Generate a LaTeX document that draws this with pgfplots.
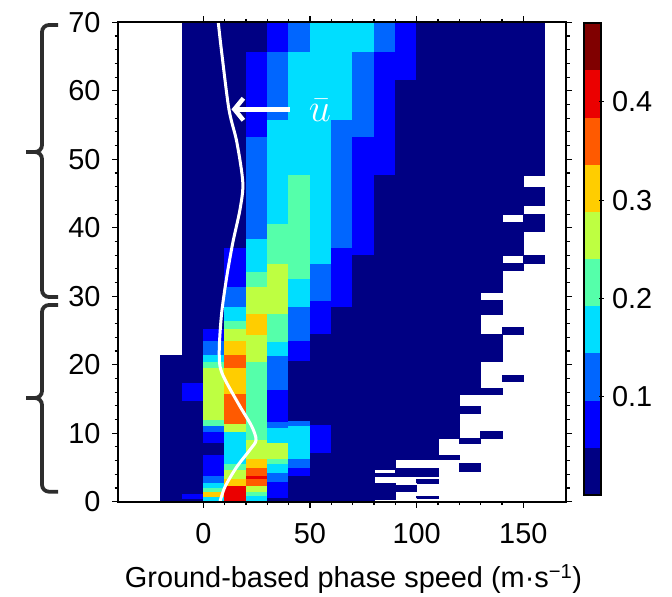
\documentclass[border=0pt]{standalone}
\usepackage{pgfplots}
\pgfplotsset{compat=1.18}
\usepackage{pgfplotstable}
\usepackage{fontspec}
\setmainfont{Liberation Sans}
\usetikzlibrary{arrows.meta}

\definecolor{lev1}{RGB}{0,0,131}
\definecolor{lev2}{RGB}{0,0,255}
\definecolor{lev3}{RGB}{0,102,255}
\definecolor{lev4}{RGB}{0,222,255}
\definecolor{lev5}{RGB}{85,255,170}
\definecolor{lev6}{RGB}{190,255,65}
\definecolor{lev7}{RGB}{255,205,0}
\definecolor{lev8}{RGB}{255,90,0}
\definecolor{lev9}{RGB}{235,0,0}
\definecolor{lev10}{RGB}{128,0,0}
\definecolor{bracegray}{RGB}{45,45,45}

% runs of equal value: left edge of 10 m/s bin, bottom and top altitude (km), value
\pgfplotstableread{
x lo hi v
-20 0 21.4 0.024
-10 17.3 70 0.024
-10 14.6 17.3 0.072
-10 1.0 14.6 0.024
-10 0.25 1.0 0.072
-10 0 0.25 0.024
0 25.1 70 0.024
0 23.4 25.1 0.072
0 21.3 23.4 0.12
0 20.3 21.3 0.168
0 19.4 20.3 0.216
0 11.8 19.4 0.264
0 11.0 11.8 0.216
0 10.1 11.0 0.12
0 8.5 10.1 0.072
0 6.8 8.5 0.024
0 3.7 6.8 0.072
0 2.6 3.7 0.12
0 1.9 2.6 0.168
0 1.3 1.9 0.216
0 0.6 1.3 0.312
0 0 0.6 0.168
10 36.9 70 0.024
10 31.3 36.9 0.072
10 28.3 31.3 0.12
10 26.3 28.3 0.168
10 25.2 26.3 0.216
10 23.4 25.2 0.264
10 21.3 23.4 0.312
10 19.5 21.3 0.36
10 15.6 19.5 0.312
10 11.2 15.6 0.36
10 10.1 11.2 0.264
10 5.5 10.1 0.168
10 4.5 5.5 0.216
10 3.2 4.5 0.264
10 2.2 3.2 0.312
10 0 2.2 0.408
20 65.6 70 0.024
20 53.2 65.6 0.072
20 38.3 53.2 0.12
20 33.4 38.3 0.168
20 31.3 33.4 0.216
20 27.3 31.3 0.264
20 24.2 27.3 0.312
20 20.3 24.2 0.264
20 9.0 20.3 0.216
20 6.1 9.0 0.264
20 4.9 6.1 0.312
20 3.7 4.9 0.36
20 3.2 3.7 0.408
20 2.2 3.2 0.36
20 1.4 2.2 0.264
20 0.7 1.4 0.216
20 0 0.7 0.168
30 65.6 70 0.072
30 55.6 65.6 0.12
30 40.5 55.6 0.168
30 34.6 40.5 0.216
30 27.3 34.6 0.264
30 23.3 27.3 0.216
30 21.2 23.3 0.168
30 16.3 21.2 0.12
30 11.5 16.3 0.072
30 10.7 11.5 0.12
30 8.5 10.7 0.168
30 6.1 8.5 0.264
30 5.4 6.1 0.216
30 4.1 5.4 0.168
30 2.8 4.1 0.12
30 0.5 2.8 0.072
30 0 0.5 0.024
40 65.6 70 0.12
40 47.6 65.6 0.168
40 32.4 47.6 0.216
40 28.3 32.4 0.168
40 23.4 28.3 0.12
40 20.5 23.4 0.072
40 11.7 20.5 0.024
40 11.0 11.7 0.12
40 6.2 11.0 0.168
40 4.9 6.2 0.12
40 3.7 4.9 0.072
40 0 3.7 0.024
50 34.6 70 0.168
50 29.3 34.6 0.12
50 24.4 29.3 0.072
50 11.1 24.4 0.024
50 7.1 11.1 0.072
50 0 7.1 0.024
60 55.6 70 0.168
60 36.9 55.6 0.12
60 28.3 36.9 0.072
60 0 28.3 0.024
70 65.6 70 0.168
70 53.2 65.6 0.12
70 35.9 53.2 0.072
70 0 35.9 0.024
80 65.6 70 0.12
80 47.6 65.6 0.072
80 4.7 47.6 0.024
80 3.7 4.1 0.024
80 0.3 2.7 0.024
90 61.5 70 0.072
90 6.1 61.5 0.024
90 3.7 4.9 0.024
90 1.5 2.4 0.024
100 6.1 70 0.024
100 3.7 4.9 0.024
100 2.7 3.2 0.024
100 0.5 0.8 0.024
110 9.3 70 0.024
110 6.1 6.8 0.024
120 15.6 70 0.024
120 12.9 13.9 0.024
120 8.5 9.3 0.024
120 4.4 5.6 0.024
130 30.5 70 0.024
130 27.3 29.4 0.024
130 20.5 24.4 0.024
130 15.6 16.6 0.024
130 9.3 10.2 0.024
140 41.9 70 0.024
140 35.9 40.7 0.024
140 33.7 34.8 0.024
140 24.4 25.4 0.024
140 17.6 18.5 0.024
150 47.6 70 0.024
150 43.2 45.9 0.024
150 39.4 41.9 0.024
150 34.8 35.9 0.024
}\runs
\pgfplotstablegetrowsof{\runs}
\pgfmathtruncatemacro\lastrun{\pgfplotsretval-1}

\begin{document}
\begin{tikzpicture}
\path[use as bounding box] (0,0) rectangle (672bp,597bp);

\begin{axis}[
  at={(118bp,95.3bp)}, anchor=south west, scale only axis,
  width=448bp, height=479.4bp,
  xmin=-40, xmax=170, ymin=0, ymax=70,
  xtick={0,50,100,150}, minor x tick num=4,
  ytick={0,10,...,70}, minor y tick num=4,
  xtick pos=both, ytick pos=both,
  xticklabel pos=lower, yticklabel pos=left,
  tick align=outside,
  major tick length=6bp, minor tick length=3.5bp,
  tick style={line width=1.1bp, black},
  axis line style={line width=1.6bp, black},
  axis on top,
  /pgf/number format/assume math mode=true,
  tick label style={font=\fontsize{29}{34}\selectfont},
  yticklabel style={xshift=-8bp},
  xticklabel style={yshift=-12bp},
  xlabel={Ground-based phase speed (m·s\textsuperscript{−1})},
  xlabel style={at={(axis description cs:0.5257,0)}, anchor=base, yshift=-85.3bp,
    font=\fontsize{29}{34}\selectfont, inner sep=0pt},
]
\pgfplotsforeachungrouped \i in {0,...,\lastrun}{%
  \pgfplotstablegetelem{\i}{x}\of\runs \let\xa\pgfplotsretval
  \pgfplotstablegetelem{\i}{lo}\of\runs \let\za\pgfplotsretval
  \pgfplotstablegetelem{\i}{hi}\of\runs \let\zb\pgfplotsretval
  \pgfplotstablegetelem{\i}{v}\of\runs \let\vv\pgfplotsretval
  \pgfmathtruncatemacro\cc{\vv/0.048+1}%
  \pgfmathsetmacro\xb{\xa+10}%
  \edef\tmp{\noexpand\addplot[fill=lev\cc, draw=lev\cc, line width=1bp, line join=miter, forget plot]
     coordinates {(\xa,\za) (\xb,\za) (\xb,\zb) (\xa,\zb) (\xa,\za)};}%
  \tmp
}
% mean zonal wind
\addplot[white, line width=3bp, smooth] coordinates {
(7.8,0) (10.2,2.2) (15.7,5.1) (21.9,7.6) (24.7,9.0) (22.7,11.0) (17.2,13.9)
(10.2,17.8) (7.8,19.8) (7.5,22.7) (8.6,27.6) (11.0,32.9) (13.8,37.8)
(17.2,42.7) (18.5,46.6) (15.7,52.5) (12.0,57.3) (8.6,65.6) (7.0,70)};
\addplot[white, line width=4.5bp, -{Straight Barb[length=9bp,width=22bp]}]
  coordinates {(40.6,57.3) (13.2,57.3)};
\node[white, font=\fontsize{24.88}{30}\selectfont, inner sep=0pt] at (axis cs:54.7,57.2) {\scalebox{1.6}{$\bar{u}$}};
\end{axis}

% colour bar
\begin{axis}[
  at={(584bp,102bp)}, anchor=south west, scale only axis,
  width=17bp, height=471.7bp,
  xmin=0, xmax=1, ymin=0, ymax=0.48,
  xtick=\empty, ytick={0.1,0.2,0.3,0.4},
  ytick pos=right, yticklabel pos=right,
  tick align=center, major tick length=5bp,
  tick style={line width=1.1bp, black},
  axis line style={line width=2bp, black},
  axis on top,
  /pgf/number format/assume math mode=true,
  yticklabel style={/pgf/number format/.cd, fixed, precision=1, /tikz/.cd, font=\fontsize{29}{34}\selectfont, xshift=5bp},
]
\addplot[fill=lev1, draw=none] coordinates {(0,0) (1,0) (1,0.048) (0,0.048)};
\addplot[fill=lev2, draw=none] coordinates {(0,0.048) (1,0.048) (1,0.096) (0,0.096)};
\addplot[fill=lev3, draw=none] coordinates {(0,0.096) (1,0.096) (1,0.144) (0,0.144)};
\addplot[fill=lev4, draw=none] coordinates {(0,0.144) (1,0.144) (1,0.192) (0,0.192)};
\addplot[fill=lev5, draw=none] coordinates {(0,0.192) (1,0.192) (1,0.240) (0,0.240)};
\addplot[fill=lev6, draw=none] coordinates {(0,0.240) (1,0.240) (1,0.288) (0,0.288)};
\addplot[fill=lev7, draw=none] coordinates {(0,0.288) (1,0.288) (1,0.336) (0,0.336)};
\addplot[fill=lev8, draw=none] coordinates {(0,0.336) (1,0.336) (1,0.384) (0,0.384)};
\addplot[fill=lev9, draw=none] coordinates {(0,0.384) (1,0.384) (1,0.432) (0,0.432)};
\addplot[fill=lev10, draw=none] coordinates {(0,0.432) (1,0.432) (1,0.480) (0,0.480)};
\end{axis}

% altitude braces
\draw[bracegray, line width=3.8bp, rounded corners=7bp] (58bp,572bp) -- (42bp,572bp) -- (42bp,445bp) -- (26bp,445bp);
\draw[bracegray, line width=3.8bp, rounded corners=7bp] (26bp,445bp) -- (42bp,445bp) -- (42bp,300bp) -- (58bp,300bp);
\draw[bracegray, line width=3.8bp, rounded corners=7bp] (58bp,292bp) -- (42bp,292bp) -- (42bp,199bp) -- (26bp,199bp);
\draw[bracegray, line width=3.8bp, rounded corners=7bp] (26bp,199bp) -- (42bp,199bp) -- (42bp,105.3bp) -- (58bp,105.3bp);
\end{tikzpicture}
\end{document}
